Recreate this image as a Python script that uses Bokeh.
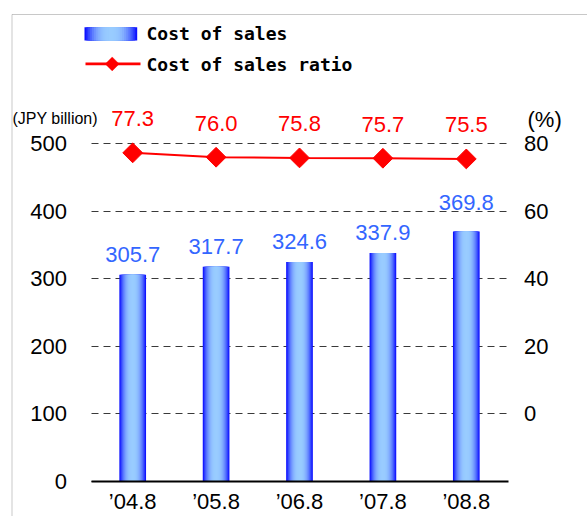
import math
from bokeh.plotting import figure
from bokeh.models import (ColumnDataSource, Range1d, LinearAxis, FixedTicker, Grid,
                          BoxAnnotation, PolyAnnotation, Label)
from bokeh.core.properties import value
from bokeh.embed import file_html
from bokeh.resources import INLINE

# ---- data ----
periods = ["\u201904.8", "\u201905.8", "\u201906.8", "\u201907.8", "\u201908.8"]
cost_of_sales = [305.7, 317.7, 324.6, 337.9, 369.8]
cost_ratio = [77.3, 76.0, 75.8, 75.7, 75.5]
left_ticks = [0, 100, 200, 300, 400, 500]
right_ticks = [0, 20, 40, 60, 80]
legend_labels = ["Cost of sales", "Cost of sales ratio"]
unit_left = "(JPY billion)"
unit_right = "(%)"

# ---- styling / layout ----
cost_label_lift = [20.5, 20.5, 20.5, 20.5, 29]
NUM_FONT = "Liberation Sans"
LEG_FONT = "DejaVu Sans Mono"
W, H = 587, 516
PX_X = 83.4          # pixels per category
X0_PX = 132.2        # pixel of first category centre
PX_Y = 0.6745        # pixels per JPY billion
Y0_PX = 480.5        # pixel of zero line

idx = list(range(len(periods)))
x_start = -X0_PX / PX_X
x_end = x_start + W / PX_X
y_end = Y0_PX / PX_Y
y_start = y_end - H / PX_Y
cat_lo, cat_hi = -0.5, len(periods) - 0.5

src = ColumnDataSource(dict(
    x=idx,
    cost=cost_of_sales,
    ratio=cost_ratio,
    cost_txt=[f"{v:.1f}" for v in cost_of_sales],
    ratio_txt=[f"{v:.1f}" for v in cost_ratio],
    cost_dy=[-d for d in cost_label_lift],
))

p = figure(width=W, height=H, x_range=Range1d(x_start, x_end), y_range=Range1d(y_start, y_end),
           x_axis_type=None, y_axis_type=None,
           output_backend="svg", toolbar_location=None, min_border=0)
p.extra_y_ranges = {"pct": Range1d((y_start - 100) / 5, (y_end - 100) / 5)}
p.outline_line_color = None
p.background_fill_color = "white"
p.border_fill_color = "white"

# grid
grid_kw = dict(dimension=1, ticker=FixedTicker(ticks=left_ticks), grid_line_color="#3a3a3a",
               grid_line_dash="7 5", grid_line_width=1)
if "cross_bounds" in Grid.properties():
    grid_kw["cross_bounds"] = (cat_lo, cat_hi)
    p.add_layout(Grid(**grid_kw), "center")
else:
    p.segment(x0=[cat_lo] * len(left_ticks), x1=[cat_hi] * len(left_ticks), y0=left_ticks,
              y1=left_ticks, line_color="#3a3a3a", line_dash="7 5", line_width=1)

# axes (fixed inside the full-canvas frame)
la = LinearAxis(fixed_location=cat_lo, ticker=FixedTicker(ticks=left_ticks))
la.major_label_standoff = 24
ra = LinearAxis(fixed_location=cat_hi, y_range_name="pct", ticker=FixedTicker(ticks=right_ticks))
ra.major_label_standoff = 16
xa = LinearAxis(fixed_location=0, ticker=FixedTicker(ticks=idx),
                major_label_overrides={i: lab for i, lab in zip(idx, periods)},
                bounds=(cat_lo, cat_hi))
xa.major_label_standoff = 8
xa.axis_line_color = "black"
xa.axis_line_width = 2
for ax in (la, ra):
    ax.axis_line_color = None
for ax in (la, ra, xa):
    ax.major_tick_line_color = None
    ax.minor_tick_line_color = None
    ax.major_tick_out = 0
    ax.major_tick_in = 0
    ax.major_label_text_font = NUM_FONT
    ax.major_label_text_font_size = "22px"
    ax.major_label_text_color = "black"

# gradient bars (nested bars, outer = edge colour)
EDGE = (0, 0, 255)
CENTER = (153, 204, 255)
BAR_W = 0.32
N = 14

def mix(d):
    w = 1 - d ** 2.5
    return "#%02x%02x%02x" % tuple(int(round(e + (c - e) * w)) for e, c in zip(EDGE, CENTER))

for k in range(N):
    frac = 1 - k / N
    d = 1 - (k + 0.5) / N
    p.vbar(x="x", top="cost", bottom=0, width=BAR_W * frac, source=src,
           fill_color=mix(d), line_color=None)

p.add_layout(xa, "below")
p.add_layout(la, "left")
p.add_layout(ra, "right")

# ratio line
p.line(x="x", y="ratio", y_range_name="pct", source=src, line_color="#FF0000", line_width=2)
p.scatter(x="x", y="ratio", y_range_name="pct", source=src, marker="square", size=14,
          angle=math.pi / 4, fill_color="#FF0000", line_color="#FF0000")

# value labels
p.text(x="x", y="cost", text="cost_txt", source=src, text_align="center",
       text_baseline="middle", y_offset="cost_dy", text_color="#3366FF",
       text_font=value(NUM_FONT), text_font_size="22px")
p.text(x="x", y="ratio", text="ratio_txt", source=src, y_range_name="pct",
       text_align="center", text_baseline="middle", y_offset=-34, text_color="#FF0000",
       text_font=value(NUM_FONT), text_font_size="22px")

def cbox(**kw):
    return BoxAnnotation(left_units="canvas", right_units="canvas",
                         top_units="canvas", bottom_units="canvas", **kw)

# outer frame
p.add_layout(cbox(left=11.5, top=14, right=3000, bottom=3000,
                  fill_color=None, line_color="#4a4a4a", line_width=1))

# legend swatch (gradient)
SW_L, SW_R, SW_T, SW_B = 84, 136.7, 26.7, 40
cx = (SW_L + SW_R) / 2
hw = (SW_R - SW_L) / 2
for k in range(N):
    frac = 1 - k / N
    d = 1 - (k + 0.5) / N
    p.add_layout(cbox(left=cx - hw * frac, right=cx + hw * frac, top=SW_T, bottom=SW_B,
                      fill_color=mix(d), fill_alpha=1, line_color=None))
# legend line + diamond
p.add_layout(cbox(left=85, right=140, top=62, bottom=64.7,
                  fill_color="#FF0000", fill_alpha=1, line_color=None))
dx, dy, r = 111.7, 63.4, 7
p.add_layout(PolyAnnotation(xs=[dx, dx + r, dx, dx - r], ys=[dy - r, dy, dy + r, dy],
                            xs_units="canvas", ys_units="canvas",
                            fill_color="#FF0000", fill_alpha=1, line_color="#FF0000"))
for txt, yy in zip(legend_labels, [33.4, 63.5]):
    p.add_layout(Label(x=146, y=yy, x_units="canvas", y_units="canvas", text=txt,
                       text_font=LEG_FONT, text_font_style="bold", text_font_size="18px",
                       text_baseline="middle", text_align="left", text_color="black"))

p.add_layout(Label(x=12, y=118, x_units="canvas", y_units="canvas", text=unit_left,
                   text_font="Liberation Sans", text_font_size="16px",
                   text_baseline="middle", text_align="left", text_color="black"))
p.add_layout(Label(x=527, y=119, x_units="canvas", y_units="canvas", text=unit_right,
                   text_font="Liberation Sans", text_font_size="22px",
                   text_baseline="middle", text_align="left", text_color="black"))

open("out.html", "w").write(file_html(p, INLINE))
